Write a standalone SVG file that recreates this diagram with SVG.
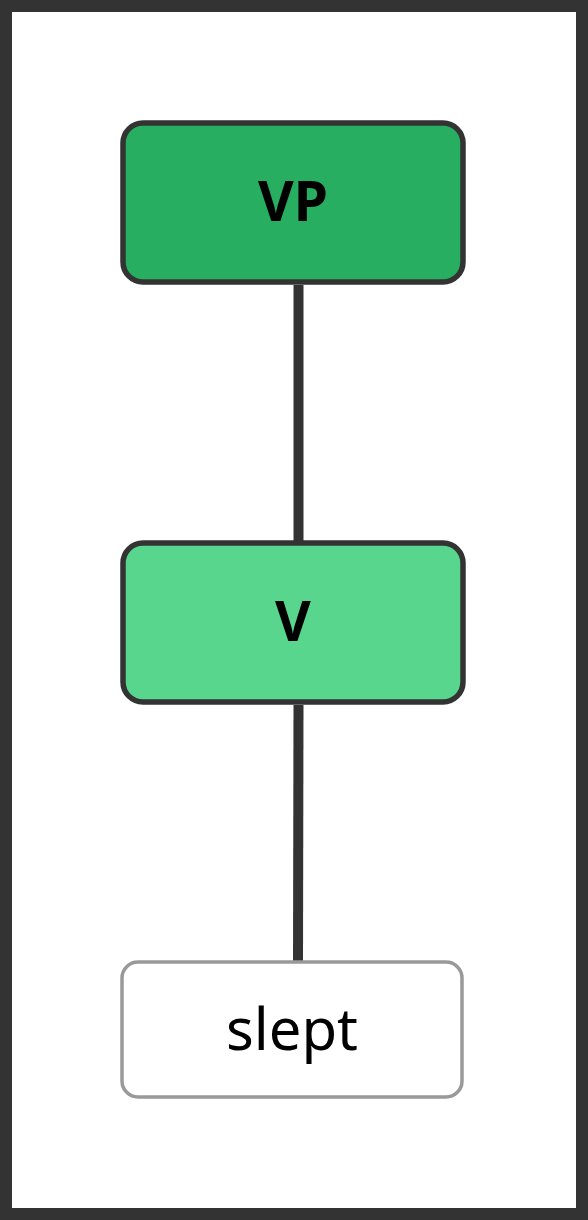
<svg xmlns="http://www.w3.org/2000/svg" width="588" height="1220" viewBox="0 0 588 1220">
<style>
.frame{fill:#fff;stroke:#333;stroke-width:12}
.n{stroke:#333;stroke-width:5.5}
.lbl{font-family:"Noto Sans","Open Sans","DejaVu Sans",sans-serif;font-weight:bold;font-size:55px;fill:#000;text-anchor:middle}
.leaf{fill:#fff;stroke:#999;stroke-width:3.5}
.leaft{font-family:"Noto Sans","Open Sans","DejaVu Sans",sans-serif;font-size:58px;fill:#000;text-anchor:middle}
.edge{stroke:#333;stroke-width:10;fill:none}
</style>
<rect class="frame" x="6" y="6" width="576" height="1208"/>
<g id="connectors">
<line class="edge" x1="298.5" y1="285" x2="298.5" y2="543"/>
<line class="edge" x1="298.5" y1="705" x2="298" y2="962"/>
</g>
<g id="node-VP">
<rect class="n" x="123" y="123" width="340" height="159" rx="20" fill="#27ae60"/>
<text class="lbl" x="293" y="221">VP</text>
</g>
<g id="node-V">
<rect class="n" x="123" y="543" width="340" height="159" rx="20" fill="#58d68d"/>
<text class="lbl" x="293" y="641">V</text>
</g>
<g id="node-slept">
<rect class="leaf" x="122" y="962" width="340" height="135" rx="16"/>
<text class="leaft" x="292" y="1050">slept</text>
</g>
</svg>
